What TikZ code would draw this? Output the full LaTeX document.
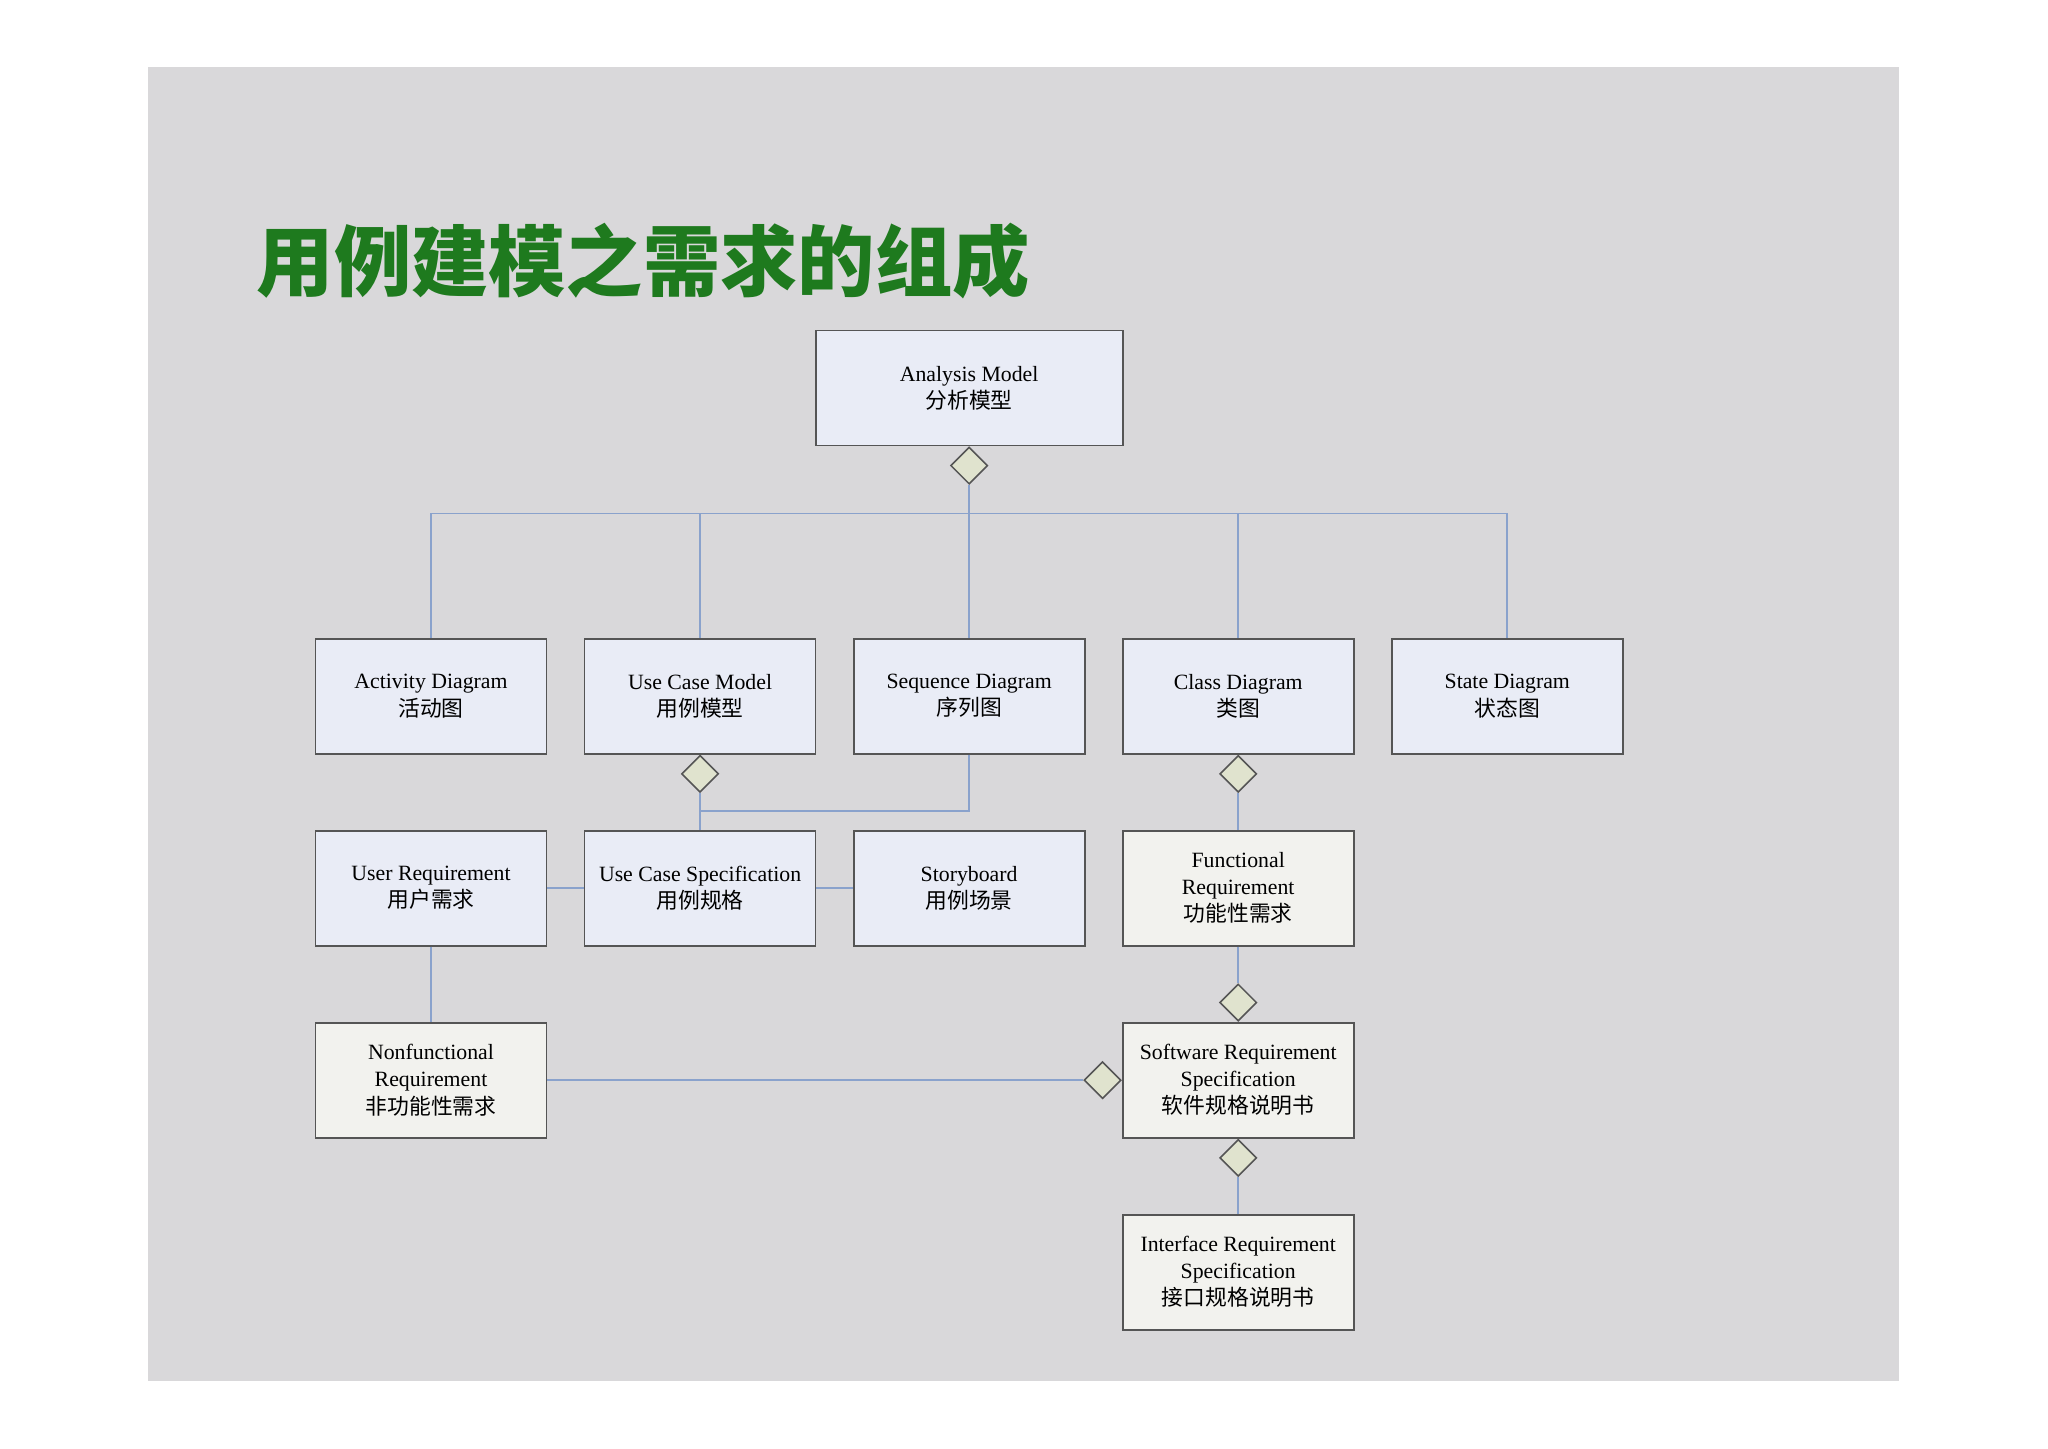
\documentclass[tikz,border=0pt]{standalone}
\usepackage{fontspec}
\setmainfont{Liberation Serif}
\newfontfamily\cjk{Noto Sans CJK SC}
\usepackage{xcolor}
\usetikzlibrary{positioning, shapes.geometric}

\definecolor{slidegray}{HTML}{D9D8DA}
\definecolor{titlegreen}{HTML}{1E7A1E}
\definecolor{boxblue}{HTML}{E9ECF6}
\definecolor{boxcream}{HTML}{F2F2EE}
\definecolor{boxedge}{HTML}{555555}
\definecolor{linkblue}{HTML}{8AA2CC}
\definecolor{diamfill}{HTML}{E0E3CE}

\begin{document}
\begin{tikzpicture}[
  x=0.01306cm, y=-0.01306cm,
  every node/.style={font=\fontsize{6.2pt}{7.7pt}\selectfont},
  modelbox/.style={draw=boxedge, line width=0.5pt, minimum width=2.31cm,
               minimum height=1.15cm, align=center, inner sep=2pt},
  bluebox/.style={modelbox, fill=boxblue},
  creambox/.style={modelbox, fill=boxcream},
  diam/.style={diamond, draw=boxedge, fill=diamfill, line width=0.45pt,
               minimum width=0.37cm, minimum height=0.37cm, inner sep=0pt},
  link/.style={draw=linkblue, line width=0.45pt}
]
% ---- Page and slide ----
\useasboundingbox (0,0) rectangle (1568,1109);
\fill[white] (0,0) rectangle (1568,1109);
\fill[slidegray] (113,51) rectangle (1454,1057);

% ---- Title ----
\node[anchor=west, inner sep=0pt, text=titlegreen,
      font=\cjk\bfseries\fontsize{22pt}{26pt}\selectfont] (title) at (196,200)
  {用例建模之需求的组成};

% ---- Top ----
\node[bluebox, minimum width=3.07cm] (am) at (742,297)
  {Analysis Model\\{\cjk 分析模型}};
\node[diam, below=0pt of am] (d0) {};

% ---- Diagrams (row 1) ----
\node[bluebox] (act) at (330,533) {Activity Diagram\\{\cjk 活动图}};
\node[bluebox] (ucm) at (536,533) {Use Case Model\\{\cjk 用例模型}};
\node[bluebox] (seq) at (742,533) {Sequence Diagram\\{\cjk 序列图}};
\node[bluebox] (cls) at (948,533) {Class Diagram\\{\cjk 类图}};
\node[bluebox] (sta) at (1154,533) {State Diagram\\{\cjk 状态图}};

\coordinate (bus) at (742,393);
\draw[link] (d0.south) -- (bus);
\draw[link] (act.north) |- (bus);
\draw[link] (sta.north) |- (bus);
\draw[link] (ucm.north) -- (ucm.north |- bus);
\draw[link] (cls.north) -- (cls.north |- bus);
\draw[link] (seq.north) -- (bus);

\node[diam, below=0pt of ucm] (d1) {};
\node[diam, below=0pt of cls] (d2) {};

% ---- Requirements (row 2) ----
\node[bluebox] (ureq) at (330,680) {User Requirement\\{\cjk 用户需求}};
\node[bluebox] (ucs) at (536,680) {Use Case Specification\\{\cjk 用例规格}};
\node[bluebox] (sb) at (742,680) {Storyboard\\{\cjk 用例场景}};
\node[creambox] (freq) at (948,680)
  {Functional\\Requirement\\{\cjk 功能性需求}};

\coordinate (j1) at (536,621);
\draw[link] (d1.south) -- (ucs.north);
\draw[link] (seq.south) |- (j1);
\draw[link] (d2.south) -- (freq.north);
\draw[link] (ureq) -- (ucs);
\draw[link] (ucs) -- (sb);

% ---- Specifications (rows 3, 4) ----
\node[creambox] (nfr) at (330,827)
  {Nonfunctional\\Requirement\\{\cjk 非功能性需求}};
\node[creambox] (srs) at (948,827)
  {Software Requirement\\Specification\\{\cjk 软件规格说明书}};
\node[creambox] (isr) at (948,974)
  {Interface Requirement\\Specification\\{\cjk 接口规格说明书}};

\node[diam, above=0pt of srs] (d3) {};
\node[diam, left=0pt of srs] (d4) {};
\node[diam, below=0pt of srs] (d5) {};

\draw[link] (ureq) -- (nfr);
\draw[link] (freq.south) -- (d3.north);
\draw[link] (nfr.east) -- (d4.west);
\draw[link] (d5.south) -- (isr.north);

\end{tikzpicture}
\end{document}
